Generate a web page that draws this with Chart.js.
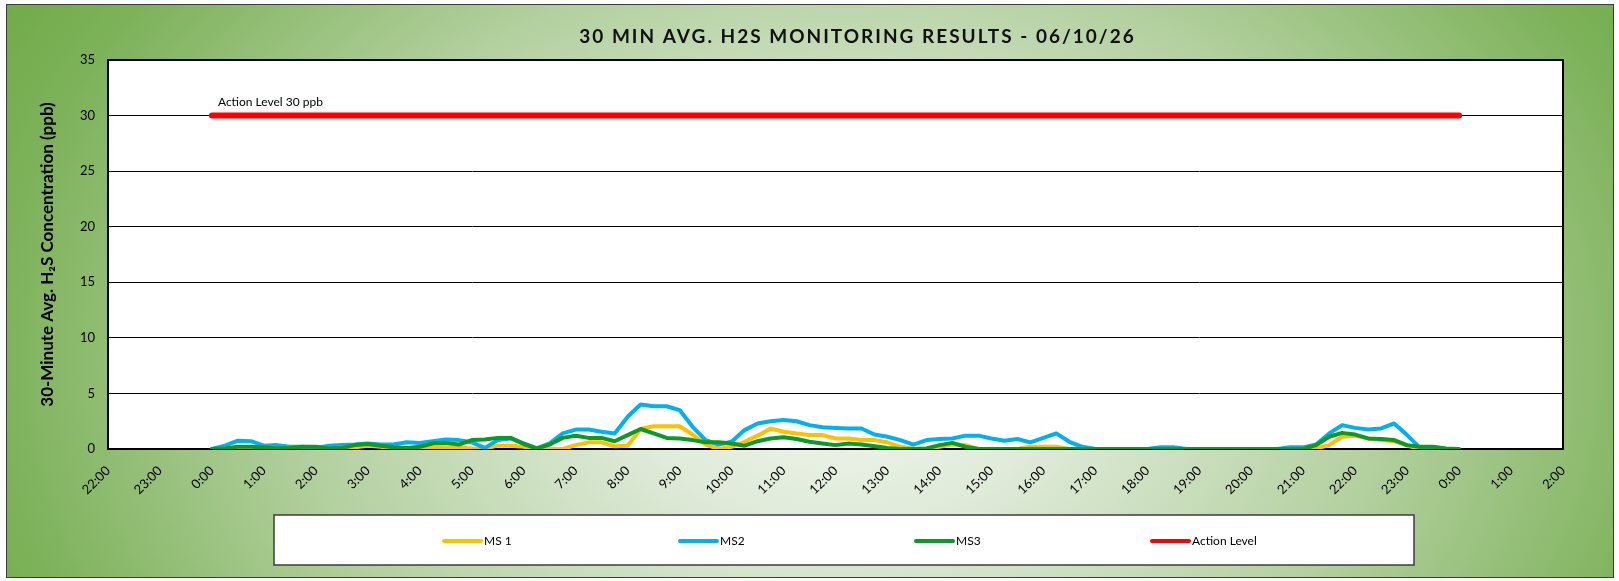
<!DOCTYPE html>
<html>
<head>
<meta charset="utf-8">
<title>30 MIN AVG. H2S MONITORING RESULTS</title>
<script src="https://cdn.jsdelivr.net/npm/chart.js@4.4.1/dist/chart.umd.min.js"></script>
<style>
	html, body { margin: 0; padding: 0; background: #fff; }
	#frame {
		position: absolute; left: 6px; top: 4px;
		width: 1608px; height: 574px;
		box-sizing: border-box;
		border: 1px solid #3c3c3c;
		background: radial-gradient(ellipse 62% 130% at 52% 62%, #f3f8f0 0%, #e0ebda 22%, #b3d09f 55%, #7db25a 85%, #6ea944 100%);
	}
	#chart { display: block; }
</style>
</head>
<body>
<div id="frame"><canvas id="chart" width="1606" height="572"></canvas></div>
<script>
// sample times (30-min rolling averages, read every 15 min)
var times = [
	'0:00','0:15','0:30','0:45','1:00','1:15','1:30','1:45','2:00','2:15','2:30','2:45',
	'3:00','3:15','3:30','3:45','4:00','4:15','4:30','4:45','5:00','5:15','5:30','5:45',
	'6:00','6:15','6:30','6:45','7:00','7:15','7:30','7:45','8:00','8:15','8:30','8:45',
	'9:00','9:15','9:30','9:45','10:00','10:15','10:30','10:45','11:00','11:15','11:30','11:45',
	'12:00','12:15','12:30','12:45','13:00','13:15','13:30','13:45','14:00','14:15','14:30','14:45',
	'15:00','15:15','15:30','15:45','16:00','16:15','16:30','16:45','17:00','17:15','17:30','17:45',
	'18:00','18:15','18:30','18:45','19:00','19:15','19:30','19:45','20:00','20:15','20:30','20:45',
	'21:00','21:15','21:30','21:45','22:00','22:15','22:30','22:45','23:00','23:15','23:30','23:45',
	'24:00'
];

var ms1 = [
	0, 0, 0, 0.05,  0.05, 0.05, 0, 0,  0, 0, 0, 0.15,
	0.3, 0.2, 0, 0,  0, 0.1, 0.15, 0.15,  0.05, 0.05, 0.3, 0.3,
	0.2, 0, 0, 0,  0.35, 0.6, 0.6, 0.25,  0.3, 1.8, 2.05, 2.05,
	2.05, 1.3, 0.4, 0,  0.2, 0.65, 1.2, 1.85,  1.55, 1.4, 1.25, 1.25,
	0.95, 0.95, 0.8, 0.8,  0.6, 0.2, 0.05, 0,  0.2, 0.4, 0.35, 0,
	0, 0, 0, 0.2,  0.2, 0.2, 0, 0,  0, 0, 0, 0,
	0, 0, 0, 0,  0, 0, 0, 0,  0, 0, 0, 0,
	0, 0.05, 0.35, 1.1,  1.2, 0.95, 0.8, 0.7,  0.3, 0, 0, null,
	null
];

var ms2 = [
	0, 0.3, 0.75, 0.7,  0.3, 0.35, 0.2, 0.2,  0.1, 0.3, 0.35, 0.4,
	0.5, 0.4, 0.4, 0.6,  0.55, 0.7, 0.85, 0.8,  0.6, 0.1, 0.8, 0.95,
	0.5, 0.05, 0.5, 1.4,  1.75, 1.75, 1.55, 1.4,  2.9, 4.0, 3.85, 3.85,
	3.5, 2.0, 0.8, 0.4,  0.65, 1.7, 2.3, 2.5,  2.6, 2.5, 2.15, 1.95,
	1.9, 1.85, 1.85, 1.3,  1.1, 0.8, 0.4, 0.8,  0.9, 0.95, 1.2, 1.2,
	0.95, 0.75, 0.9, 0.6,  1.0, 1.4, 0.65, 0.2,  0, 0, 0, 0,
	0, 0.15, 0.15, 0,  0, 0, 0, 0,  0, 0, 0, 0.15,
	0.15, 0.4, 1.4, 2.15,  1.9, 1.75, 1.85, 2.3,  1.25, 0.1, 0.05, 0,
	null
];

var ms3 = [
	0, 0.05, 0.2, 0.2,  0.15, 0.05, 0.1, 0.2,  0.2, 0.05, 0.1, 0.35,
	0.45, 0.3, 0.15, 0.1,  0.2, 0.5, 0.55, 0.4,  0.8, 0.85, 1.0, 1.0,
	0.45, 0.05, 0.4, 1.0,  1.2, 1.0, 1.0, 0.7,  1.25, 1.8, 1.4, 1.0,
	0.95, 0.8, 0.6, 0.6,  0.5, 0.3, 0.7, 0.95,  1.05, 0.9, 0.65, 0.5,
	0.35, 0.5, 0.4, 0.25,  0.1, 0, 0, 0.05,  0.35, 0.55, 0.2, 0,
	0, 0, 0, 0,  0, 0, 0, 0,  0, 0, 0, 0,
	0, 0, 0, 0,  0, 0, 0, 0,  0, 0, 0, 0,
	0, 0.35, 1.1, 1.45,  1.3, 0.95, 0.9, 0.8,  0.35, 0.2, 0.2, 0.05,
	0
];

var actionLevel = 30;
var actionTimes = ['0:00', '24:00'];

// axis: 22:00 of the day before to 2:00 of the day after, in hours
var xMin = -2, xMax = 26;
var yMin = 0, yMax = 35, yStep = 5;

function toHours(t) {
	var p = t.split(':');
	return parseInt(p[0]) + parseInt(p[1]) / 60;
}

function toPoints(values) {
	return times.map(function (t, i) { return { x: toHours(t), y: values[i] }; });
}

Chart.defaults.font.family = 'Lato, "Open Sans", sans-serif';
Chart.defaults.color = '#000';

// white plot area with black frame
var plotAreaPlugin = {
	id: 'plotArea',
	beforeDraw: function (chart) {
		var a = chart.chartArea, ctx = chart.ctx;
		ctx.save();
		ctx.fillStyle = '#fff';
		ctx.fillRect(a.left, a.top, a.right - a.left, a.bottom - a.top);
		ctx.restore();
	},
	beforeDatasetsDraw: function (chart) {
		var a = chart.chartArea, ctx = chart.ctx;
		ctx.save();
		ctx.strokeStyle = '#000';
		ctx.lineWidth = 2;
		ctx.strokeRect(a.left, a.top, a.right - a.left, a.bottom - a.top);
		ctx.restore();
	}
};

// chart title, spaced out like the original
var titlePlugin = {
	id: 'spacedTitle',
	afterDraw: function (chart) {
		var a = chart.chartArea, ctx = chart.ctx;
		ctx.save();
		ctx.font = 'bold 19px Lato';
		ctx.letterSpacing = '2px';
		ctx.fillStyle = '#111';
		ctx.textAlign = 'center';
		ctx.textBaseline = 'middle';
		ctx.fillText('30 MIN AVG. H2S MONITORING RESULTS - 06/10/26', (a.left + a.right) / 2 + 22, 32);
		ctx.restore();
	}
};

// label next to the action level line
var actionLabelPlugin = {
	id: 'actionLabel',
	afterDatasetsDraw: function (chart) {
		var ctx = chart.ctx;
		var x = chart.scales.x.getPixelForValue(toHours(actionTimes[0]));
		var y = chart.scales.y.getPixelForValue(actionLevel);
		ctx.save();
		ctx.font = '12px Lato';
		ctx.fillStyle = '#000';
		ctx.textBaseline = 'middle';
		ctx.fillText('Action Level ' + actionLevel + ' ppb', x + 6, y - 13);
		ctx.restore();
	}
};

// boxed legend under the axis, entries spread evenly
var boxLegendPlugin = {
	id: 'boxLegend',
	afterDraw: function (chart) {
		var a = chart.chartArea, ctx = chart.ctx;
		var boxLeft = a.left + 166, boxTop = a.bottom + 66, boxW = 1140, boxH = 50;
		ctx.save();
		ctx.fillStyle = '#fff';
		ctx.fillRect(boxLeft, boxTop, boxW, boxH);
		ctx.strokeStyle = '#3c3c3c';
		ctx.lineWidth = 1.5;
		ctx.strokeRect(boxLeft, boxTop, boxW, boxH);
		var yMid = boxTop + 26;
		chart.data.datasets.forEach(function (ds, i) {
			var x0 = boxLeft + 170 + i * 236;
			ctx.strokeStyle = ds.borderColor;
			ctx.lineWidth = 4;
			ctx.lineCap = 'round';
			ctx.beginPath();
			ctx.moveTo(x0, yMid);
			ctx.lineTo(x0 + 37, yMid);
			ctx.stroke();
			ctx.font = '12px Lato';
			ctx.fillStyle = '#000';
			ctx.textBaseline = 'middle';
			ctx.fillText(ds.label, x0 + 40, yMid);
		});
		ctx.restore();
	}
};

function lineSet(label, values, color, width, order) {
	return {
		label: label,
		data: toPoints(values),
		borderColor: color,
		backgroundColor: color,
		borderWidth: width,
		pointRadius: 0,
		tension: 0,
		borderJoinStyle: 'round',
		borderCapStyle: 'round',
		spanGaps: false,
		order: order
	};
}

var actionSet = lineSet('Action Level', [], '#ff0000', 6, 1);
actionSet.data = actionTimes.map(function (t) { return { x: toHours(t), y: actionLevel }; });

var chartData = {
	datasets: [
		lineSet('MS 1', ms1, '#ffc000', 4, 4),
		lineSet('MS2', ms2, '#00b0f0', 4, 3),
		lineSet('MS3', ms3, '#0a9a28', 4, 2),
		actionSet
	]
};

var chartOptions = {
	responsive: false,
	animation: false,
	layout: { padding: { top: 55, right: 50, bottom: 58, left: 0 } },
	plugins: {
		legend: { display: false },
		title: { display: false },
		tooltip: { enabled: false }
	},
	scales: {
		x: {
			type: 'linear',
			min: xMin,
			max: xMax,
			grid: { display: false },
			border: { display: true, color: '#404040', width: 2 },
			ticks: {
				stepSize: 1,
				autoSkip: false,
				minRotation: 45,
				maxRotation: 45,
				padding: 6,
				font: { size: 13 },
				callback: function (v) { return (((v % 24) + 24) % 24) + ':00'; }
			},
			afterFit: function (scale) { scale.height = 70; }
		},
		y: {
			min: yMin,
			max: yMax,
			grid: { color: '#000', lineWidth: 1, drawTicks: false },
			border: { display: true, color: '#000', width: 2 },
			ticks: { stepSize: yStep, padding: 13, font: { size: 13 } },
			title: {
				display: true,
				text: '30-Minute Avg. H\u2082S Concentration (ppb)',
				font: { size: 17, weight: 'bold' },
				padding: { top: 30, bottom: 0 }
			},
			afterFit: function (scale) { scale.width = 101; }
		}
	}
};

var chart = new Chart(document.getElementById('chart'), {
	type: 'line',
	data: chartData,
	options: chartOptions,
	plugins: [plotAreaPlugin, titlePlugin, actionLabelPlugin, boxLegendPlugin]
});
</script>
</body>
</html>
